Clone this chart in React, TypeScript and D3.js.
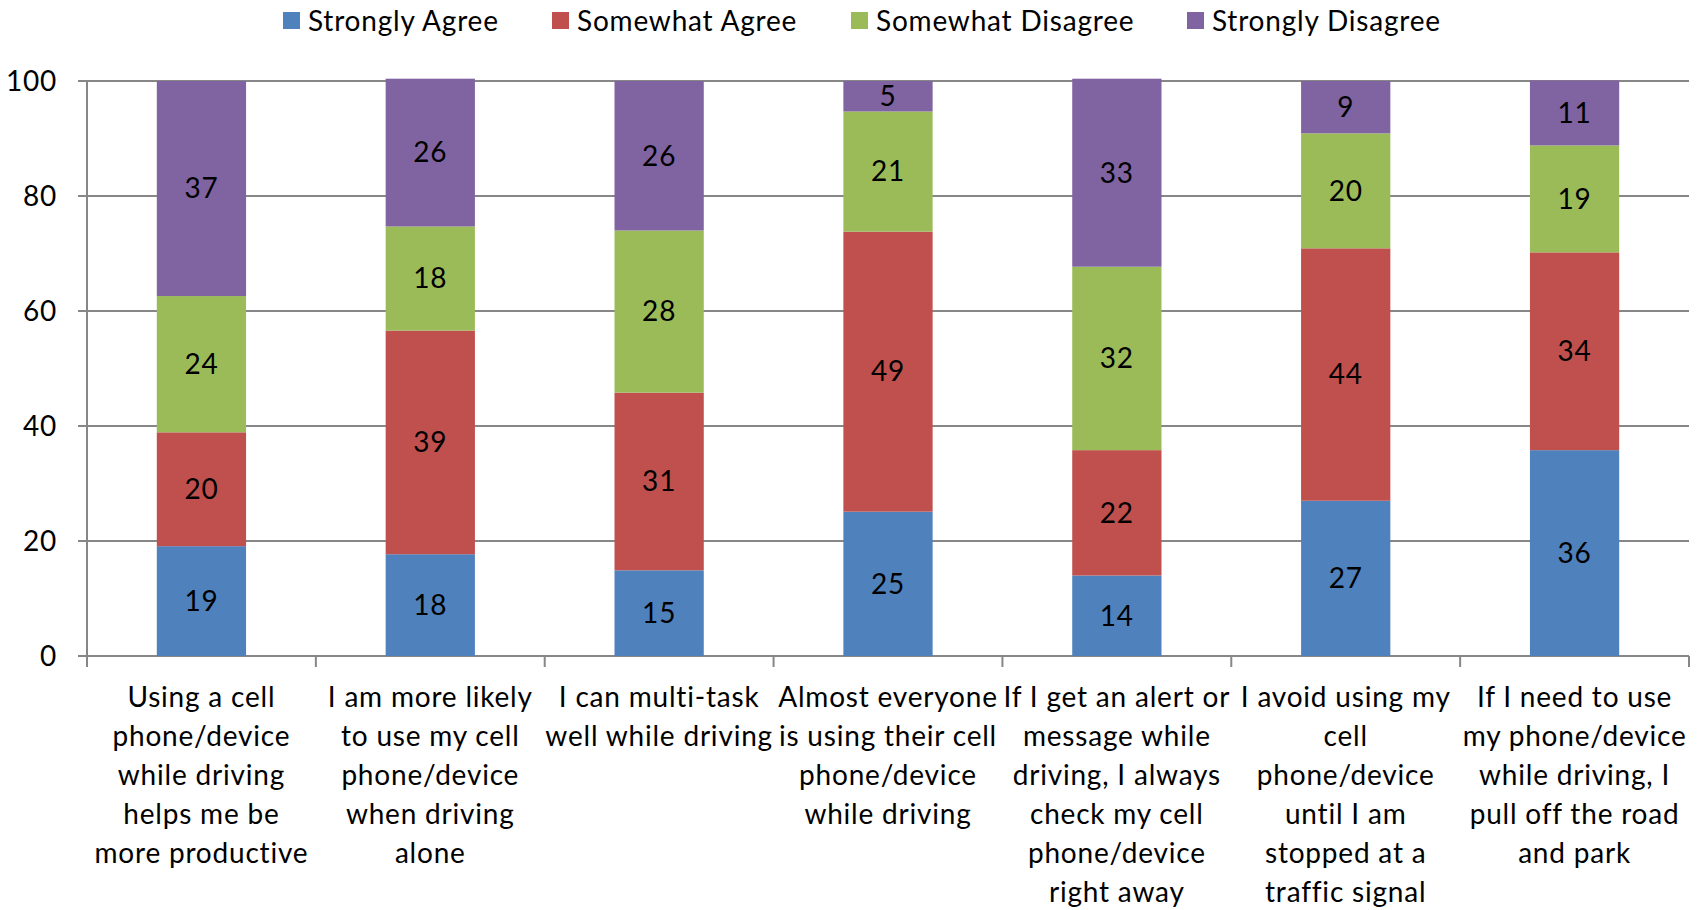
import React from "react";
import * as d3 from "d3";

const categories: string[][] = [
  ["Using a cell", "phone/device", "while driving", "helps me be", "more productive"],
  ["I am more likely", "to use my cell", "phone/device", "when driving", "alone"],
  ["I can multi-task", "well while driving"],
  ["Almost everyone", "is using their cell", "phone/device", "while driving"],
  ["If I get an alert or", "message while", "driving, I always", "check my cell", "phone/device", "right away"],
  ["I avoid using my", "cell", "phone/device", "until I am", "stopped at a", "traffic signal"],
  ["If I need to use", "my phone/device", "while driving, I", "pull off the road", "and park"],
];

const seriesNames = ["Strongly Agree", "Somewhat Agree", "Somewhat Disagree", "Strongly Disagree"];
const seriesColors = ["#4F81BD", "#C0504D", "#9BBB59", "#8064A2"];

const stronglyAgree = [19.1, 17.7, 14.9, 25.1, 14.0, 27.0, 35.8];
const somewhatAgree = [19.8, 38.9, 30.9, 48.7, 21.8, 43.9, 34.4];
const somewhatDisagree = [23.7, 18.1, 28.2, 20.9, 31.9, 20.0, 18.6];
const stronglyDisagree = [37.4, 25.7, 26.0, 5.3, 32.7, 9.1, 11.3];

const yTicks = [0, 20, 40, 60, 80, 100];

const FONT = "Lato, 'Open Sans', sans-serif";

export default function App() {
  const W = 1700, H = 910;
  const left = 87, right = 1689, top = 81, bottom = 656;
  const idx = categories.map((_, i) => i);
  const x = d3.scaleBand<number>().domain(idx).range([left, right]).paddingInner(0.61).paddingOuter(0.305);
  const band = d3.scaleBand<number>().domain(idx).range([left, right]);
  const y = d3.scaleLinear().domain([0, 100]).range([bottom, top]);

  const rows = idx.map((i) => ({
    i,
    s0: stronglyAgree[i],
    s1: somewhatAgree[i],
    s2: somewhatDisagree[i],
    s3: stronglyDisagree[i],
  }));
  const stack = d3.stack<any>().keys(["s0", "s1", "s2", "s3"])(rows);

  const legendX = [283, 552, 851, 1187];
  const fs = 28;
  const ls = 0.8;

  return (
    <svg width={W} height={H} style={{ display: "block", position: "absolute", left: 0, top: 0 }} fontFamily={FONT} letterSpacing={ls}>
      <rect width={W} height={H} fill="#fff" />
      {yTicks.map((t) => (
        <line key={t} x1={left - 9} x2={right} y1={y(t)} y2={y(t)} stroke="#878787" strokeWidth={2} />
      ))}
      {yTicks.map((t) => (
        <text key={"l" + t} x={57} y={y(t)} dy="0.35em" textAnchor="end" fontSize={fs} fill="#000">
          {t}
        </text>
      ))}
      <line x1={left} x2={left} y1={top} y2={bottom} stroke="#878787" strokeWidth={2} />
      {[...idx, idx.length].map((i) => {
        const xx = i < idx.length ? band(i)! : right;
        return <line key={"t" + i} x1={xx} x2={xx} y1={bottom} y2={bottom + 11} stroke="#878787" strokeWidth={2} />;
      })}
      {stack.map((s, si) =>
        s.map((d: any, i: number) => (
          <rect key={si + "-" + i} x={x(i)} width={x.bandwidth()} y={y(d[1])} height={y(d[0]) - y(d[1])} fill={seriesColors[si]} />
        ))
      )}
      {stack.map((s, si) =>
        s.map((d: any, i: number) => (
          <text key={"v" + si + "-" + i} x={x(i)! + x.bandwidth() / 2} y={(y(d[0]) + y(d[1])) / 2} dy="0.35em" textAnchor="middle" fontSize={fs} fill="#000">
            {Math.round(d[1] - d[0])}
          </text>
        ))
      )}
      {categories.map((lines, i) => (
        <text key={"c" + i} x={band(i)! + band.bandwidth() / 2} textAnchor="middle" fontSize={fs} fill="#000">
          {lines.map((ln, k) => (
            <tspan key={k} x={band(i)! + band.bandwidth() / 2} y={697 + k * 39} dy="0.35em">
              {ln}
            </tspan>
          ))}
        </text>
      ))}
      {seriesNames.map((n, k) => (
        <g key={n}>
          <rect x={legendX[k]} y={12} width={17} height={17} fill={seriesColors[k]} />
          <text x={legendX[k] + 25} y={21} dy="0.35em" fontSize={fs} fill="#000">
            {n}
          </text>
        </g>
      ))}
    </svg>
  );
}
